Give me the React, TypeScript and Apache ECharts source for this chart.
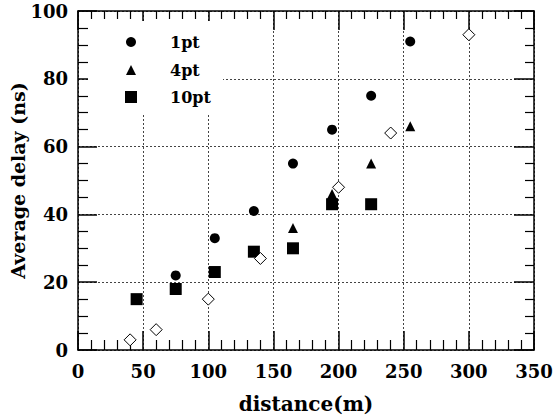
import React, { useEffect, useRef } from "react";
import * as echarts from "echarts";

const pt1X = [75, 105, 135, 165, 195, 225, 255];
const pt1Y = [22, 33, 41, 55, 65, 75, 91];
const pt4X = [165, 195, 225, 255];
const pt4Y = [36, 46, 55, 66];
const pt10X = [45, 75, 105, 135, 165, 195, 225];
const pt10Y = [15, 18, 23, 29, 30, 43, 43];
const measX = [40, 60, 100, 140, 200, 240, 300];
const measY = [3, 6, 15, 27, 48, 64, 93];
const legendNames = ["1pt", "4pt", "10pt"];

const zip = (xs: number[], ys: number[]) => xs.map((x, i) => [x, ys[i]]);

const FONT = "DejaVu Serif";

export default function App() {
  const ref = useRef<HTMLDivElement>(null);
  useEffect(() => {
    const chart = echarts.init(ref.current!, null, { renderer: "svg" });
    const gridLine = { show: true, lineStyle: { color: "#444", type: [2, 2] as any, width: 1 } };
    const axisLine = { show: true, onZero: false, lineStyle: { color: "#000", width: 1.5 } };
    const labelStyle = { color: "#000", fontFamily: FONT, fontWeight: "bold" as const, fontSize: 18 };
    const legendBase = (size: number, top: number) => ({
      left: 131 - size / 2,
      top,
      orient: "vertical" as const,
      padding: 0,
      itemWidth: size,
      itemHeight: size,
      selectedMode: false as const,
      textStyle: {
        color: "#000", fontFamily: FONT, fontWeight: "bold" as const, fontSize: 16,
        padding: [0, 0, 0, 170 - (131 + size / 2) - 5],
      },
    });
    const mark = { color: "#000", opacity: 1 };
    chart.setOption({
      animation: false,
      backgroundColor: "#fff",
      grid: { left: 78, top: 11, right: 22, bottom: 67, containLabel: false, outerBoundsMode: "none" },
      graphic: [
        { type: "rect", z: 1, shape: { x: 88, y: 21, width: 135, height: 92 }, style: { fill: "#fff" }, silent: true },
      ],
      legend: [
        { ...legendBase(10, 34), data: [{ name: legendNames[0], icon: "circle", itemStyle: mark }] },
        { ...legendBase(10, 62), data: [{ name: legendNames[1], icon: "triangle", itemStyle: mark }] },
        { ...legendBase(12, 89), data: [{ name: legendNames[2], icon: "rect", itemStyle: mark }] },
      ],
      xAxis: [
        {
          type: "value", position: "bottom", min: 0, max: 350, interval: 50,
          axisLine, axisTick: { show: true, inside: true, length: 19, lineStyle: { color: "#000", width: 1.5 } },
          minorTick: { show: true, splitNumber: 5, length: 10, lineStyle: { color: "#000", width: 1.2 } },
          splitLine: gridLine, minorSplitLine: { show: false },
          axisLabel: { ...labelStyle, margin: 12 },
          name: "distance(m)", nameLocation: "middle", nameGap: 44, nameMoveOverlap: false,
          nameTextStyle: { color: "#000", fontFamily: FONT, fontWeight: "bold", fontSize: 20 },
        },
        {
          type: "value", position: "top", min: 0, max: 350, interval: 50,
          axisLine, axisTick: { show: true, inside: true, length: 19, lineStyle: { color: "#000", width: 1.5 } },
          minorTick: { show: true, splitNumber: 5, length: 8, lineStyle: { color: "#000", width: 1.2 } },
          splitLine: { show: false }, axisLabel: { show: false },
        },
      ],
      yAxis: [
        {
          type: "value", position: "left", min: 0, max: 100, interval: 20,
          axisLine, axisTick: { show: true, inside: true, length: 19, lineStyle: { color: "#000", width: 1.5 } },
          minorTick: { show: true, splitNumber: 4, length: 10, lineStyle: { color: "#000", width: 1.2 } },
          splitLine: gridLine,
          axisLabel: { ...labelStyle, margin: 10 },
          name: "Average delay (ns)", nameLocation: "middle", nameGap: 51, nameRotate: 90, nameMoveOverlap: false,
          nameTextStyle: { color: "#000", fontFamily: FONT, fontWeight: "bold", fontSize: 19 },
        },
        {
          type: "value", position: "right", min: 0, max: 100, interval: 20,
          axisLine, axisTick: { show: true, inside: true, length: 20, lineStyle: { color: "#000", width: 1.5 } },
          minorTick: { show: true, splitNumber: 4, length: 9, lineStyle: { color: "#000", width: 1.2 } },
          splitLine: { show: false }, axisLabel: { show: false },
        },
      ],
      series: [
        {
          name: "10pt", type: "scatter", xAxisIndex: 0, yAxisIndex: 0, symbol: "rect", symbolSize: 12,
          itemStyle: mark, data: zip(pt10X, pt10Y),
        },
        {
          name: "4pt", type: "scatter", xAxisIndex: 0, yAxisIndex: 0, symbol: "triangle", symbolSize: 10,
          itemStyle: mark, data: zip(pt4X, pt4Y),
        },
        {
          name: "1pt", type: "scatter", xAxisIndex: 0, yAxisIndex: 0, symbol: "circle", symbolSize: 10,
          itemStyle: mark, data: zip(pt1X, pt1Y),
        },
        {
          name: "measured", type: "scatter", xAxisIndex: 0, yAxisIndex: 0, symbol: "diamond", symbolSize: 12,
          itemStyle: { color: "#fff", borderColor: "#000", borderWidth: 1, opacity: 1 }, data: zip(measX, measY),
        },
      ],
    });
    return () => chart.dispose();
  }, []);
  return <div ref={ref} style={{ width: 556, height: 417, position: "absolute", left: 0, top: 0 }} />;
}
